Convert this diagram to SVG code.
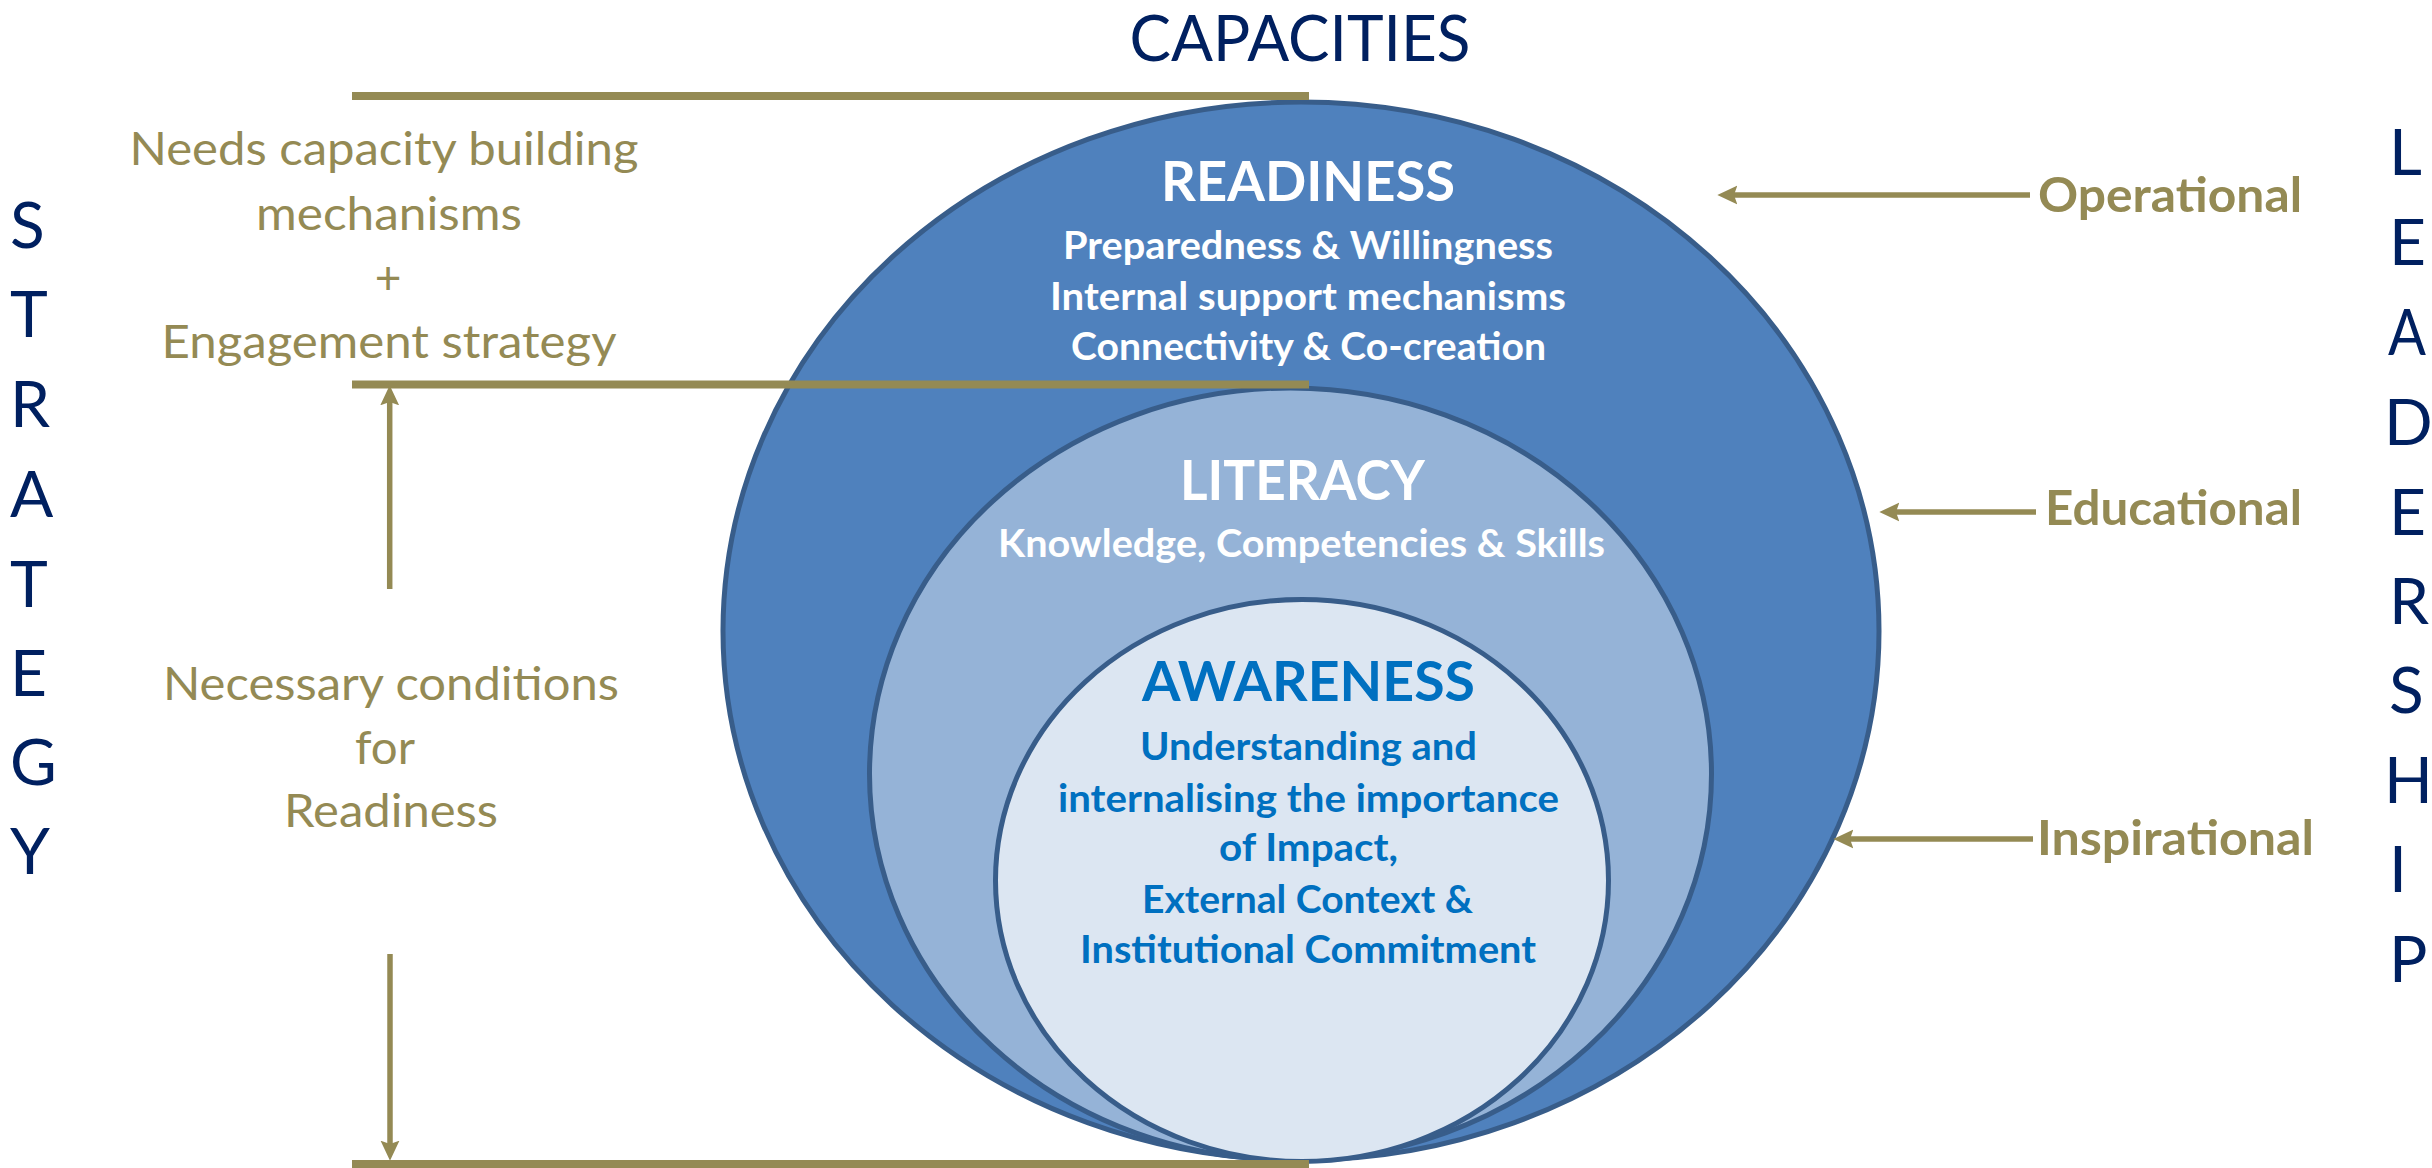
<svg xmlns="http://www.w3.org/2000/svg" width="2432" height="1168" viewBox="0 0 2432 1168">
<defs>
<style>
.navy{fill:#002060;font-family:Lato,"Liberation Sans",sans-serif;font-size:64px;}
.olive{fill:#948A54;font-family:Lato,"Liberation Sans",sans-serif;font-size:46px;text-anchor:middle;}
.lab{fill:#948A54;font-family:Lato,"Liberation Sans",sans-serif;font-size:47px;font-weight:bold;}
.wt{fill:#FFFFFF;font-family:Lato,"Liberation Sans",sans-serif;font-weight:bold;text-anchor:middle;}
.bt{fill:#0070C0;font-family:Lato,"Liberation Sans",sans-serif;font-weight:bold;text-anchor:middle;}
.h{font-size:55px;}
.s{font-size:39px;}
.ell{stroke:#385D8A;stroke-width:5;}
.bar{stroke:#948A54;stroke-width:8;fill:none;}
.arr{stroke:#948A54;stroke-width:5.5;fill:none;marker-end:url(#ah);}
</style>
<marker id="ah" markerUnits="userSpaceOnUse" markerWidth="20" markerHeight="20" viewBox="0 0 18 18" refX="3" refY="9" orient="auto">
<path d="M0,0.5 L18,9 L0,17.5 L3,9 Z" fill="#948A54"/>
</marker>
</defs>
<rect width="2432" height="1168" fill="#FFFFFF"/>

<g id="title"><text class="navy" x="1300" y="61" font-size="61" text-anchor="middle" textLength="341" lengthAdjust="spacingAndGlyphs">CAPACITIES</text></g>

<g id="strategy" class="navy">
<text x="10" y="248">S</text>
<text x="10" y="337">T</text>
<text x="10" y="427">R</text>
<text x="10" y="517">A</text>
<text x="10" y="607">T</text>
<text x="10" y="696">E</text>
<text x="10" y="785">G</text>
<text x="10" y="874">Y</text>
</g>

<g id="leadership" class="navy">
<text x="2389" y="175">L</text>
<text x="2389" y="265">E</text>
<text x="2388" y="355" textLength="38" lengthAdjust="spacingAndGlyphs">A</text>
<text x="2384" y="445">D</text>
<text x="2389" y="535">E</text>
<text x="2389" y="624">R</text>
<text x="2389" y="713">S</text>
<text x="2384" y="803">H</text>
<text x="2389" y="892">I</text>
<text x="2389" y="982">P</text>
</g>

<g id="readiness">
<ellipse class="ell" cx="1301" cy="631" rx="578" ry="529" fill="#4F81BD"/>
</g>
<g id="literacy">
<ellipse class="ell" cx="1290.5" cy="774" rx="421" ry="386" fill="#95B3D7"/>
</g>
<g id="awareness">
<ellipse class="ell" cx="1302" cy="880.5" rx="306.5" ry="281" fill="#DCE6F2"/>
</g>

<g id="readiness-text" class="wt">
<text class="h" x="1308" y="201" textLength="294" lengthAdjust="spacingAndGlyphs">READINESS</text>
<text class="s" x="1308" y="259" textLength="490" lengthAdjust="spacingAndGlyphs">Preparedness &amp; Willingness</text>
<text class="s" x="1308" y="310" textLength="516" lengthAdjust="spacingAndGlyphs">Internal support mechanisms</text>
<text class="s" x="1308.5" y="360" textLength="475" lengthAdjust="spacingAndGlyphs">Connectivity &amp; Co-creation</text>
</g>
<g id="literacy-text" class="wt">
<text class="h" x="1302.5" y="500" textLength="245" lengthAdjust="spacingAndGlyphs">LITERACY</text>
<text class="s" x="1301.5" y="557" textLength="607" lengthAdjust="spacingAndGlyphs">Knowledge, Competencies &amp; Skills</text>
</g>
<g id="awareness-text" class="bt">
<text class="h" x="1308.5" y="701" font-size="53" textLength="333" lengthAdjust="spacingAndGlyphs">AWARENESS</text>
<text class="s" x="1308.5" y="760" textLength="337" lengthAdjust="spacingAndGlyphs">Understanding and</text>
<text class="s" x="1308.5" y="812" textLength="501" lengthAdjust="spacingAndGlyphs">internalising the importance</text>
<text class="s" x="1308.5" y="861" textLength="179" lengthAdjust="spacingAndGlyphs">of Impact,</text>
<text class="s" x="1307.5" y="913" textLength="331" lengthAdjust="spacingAndGlyphs">External Context &amp;</text>
<text class="s" x="1308" y="963" textLength="456" lengthAdjust="spacingAndGlyphs">Institutional Commitment</text>
</g>

<g id="connectors">
<line class="bar" x1="352" y1="96" x2="1309" y2="96"/>
<line class="bar" x1="352" y1="384.5" x2="1309" y2="384.5"/>
<line class="bar" x1="352" y1="1164" x2="1309" y2="1164"/>
<line class="arr" x1="389.7" y1="589" x2="389.7" y2="402"/>
<line class="arr" x1="390" y1="954" x2="390" y2="1144"/>
<line class="arr" x1="2030" y1="195" x2="1734" y2="195"/>
<line class="arr" x1="2036" y1="512" x2="1896" y2="512"/>
<line class="arr" x1="2033" y1="839" x2="1850" y2="839"/>
</g>

<g id="capacity-note" class="olive">
<text x="384" y="165" textLength="509" lengthAdjust="spacingAndGlyphs">Needs capacity building</text>
<text x="389" y="230" textLength="266" lengthAdjust="spacingAndGlyphs">mechanisms</text>
<text x="388" y="294">+</text>
<text x="389" y="358" textLength="455" lengthAdjust="spacingAndGlyphs">Engagement strategy</text>
</g>
<g id="conditions-note" class="olive">
<text x="391" y="700" textLength="456" lengthAdjust="spacingAndGlyphs">Necessary conditions</text>
<text x="385" y="764" textLength="60" lengthAdjust="spacingAndGlyphs">for</text>
<text x="391" y="827" textLength="214" lengthAdjust="spacingAndGlyphs">Readiness</text>
</g>

<g id="operational"><text class="lab" x="2038" y="212" textLength="264" lengthAdjust="spacingAndGlyphs">Operational</text></g>
<g id="educational"><text class="lab" x="2045" y="525" textLength="257" lengthAdjust="spacingAndGlyphs">Educational</text></g>
<g id="inspirational"><text class="lab" x="2037" y="855" textLength="277" lengthAdjust="spacingAndGlyphs">Inspirational</text></g>
</svg>
